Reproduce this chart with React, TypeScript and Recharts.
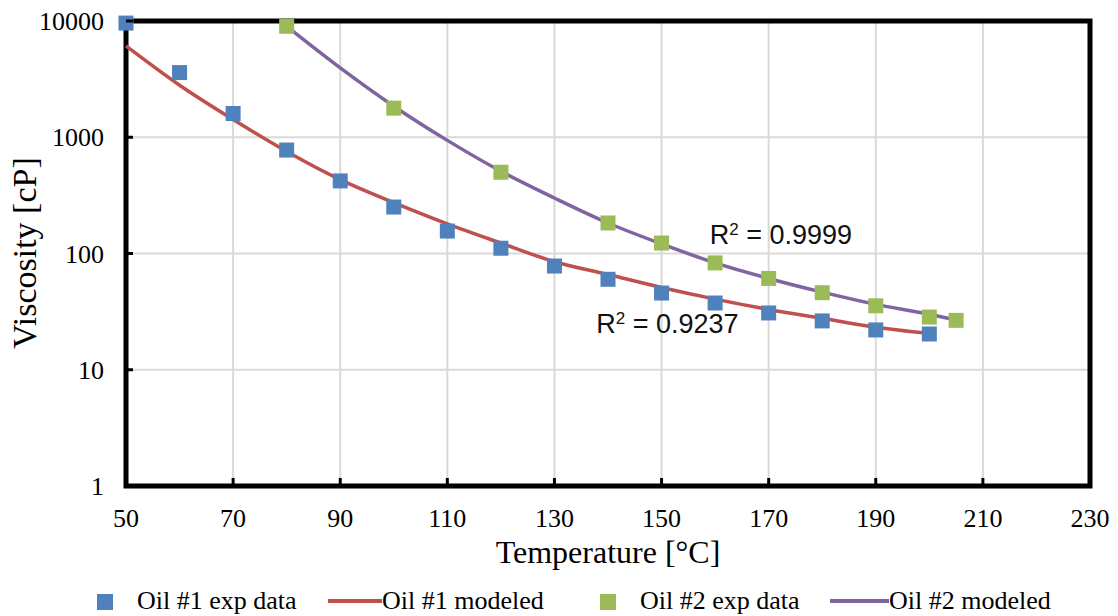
import React from 'react';
import {
  ComposedChart,
  XAxis,
  YAxis,
  CartesianGrid,
  Line,
  Scatter,
  Legend,
  ReferenceArea,
  ReferenceDot,
} from 'recharts';

// ---------- data ----------
const oil1ExpTemps = [50, 60, 70, 80, 90, 100, 110, 120, 130, 140, 150, 160, 170, 180, 190, 200];
const oil1ExpValues = [9600, 3600, 1600, 776, 421, 251, 156, 111, 78, 60, 45.7, 37.5, 30.8, 26.3, 22, 20.3];

const oil1ModelTemps = [50, 60, 70, 80, 90, 100, 110, 120, 130, 140, 150, 160, 170, 180, 190, 200];
const oil1ModelValues = [6100, 2800, 1420, 755, 432, 274, 180, 123, 85, 66, 51, 40.5, 33, 27.7, 23.2, 20.5];

const oil2ExpTemps = [80, 100, 120, 140, 150, 160, 170, 180, 190, 200, 205];
const oil2ExpValues = [9000, 1780, 500, 183, 123, 83, 61, 46, 35.5, 28.4, 26.6];

const oil2ModelTemps = [80, 90, 100, 110, 120, 130, 140, 150, 160, 170, 180, 190, 200, 205];
const oil2ModelValues = [9000, 3950, 1850, 940, 510, 300, 183, 121, 83, 61, 46.5, 36.5, 30, 26.8];

const xTicks = [50, 70, 90, 110, 130, 150, 170, 190, 210, 230];
const yTicks = [1, 10, 100, 1000, 10000];

const r2Labels = [
  { t: 159, v: 121, text: '0.9999' },
  { t: 137.8, v: 20.7, text: '0.9237' },
];

const legendItems = [
  { name: 'Oil #1 exp data', kind: 'square', color: '#4f81bd' },
  { name: 'Oil #1 modeled', kind: 'line', color: '#c0504d' },
  { name: 'Oil #2 exp data', kind: 'square', color: '#9bbb59' },
  { name: 'Oil #2 modeled', kind: 'line', color: '#8064a2' },
];

const toPoints = (ts: number[], vs: number[]) => ts.map((t, i) => ({ t, v: vs[i] }));
const oil1Exp = toPoints(oil1ExpTemps, oil1ExpValues);
const oil1Model = toPoints(oil1ModelTemps, oil1ModelValues);
const oil2Exp = toPoints(oil2ExpTemps, oil2ExpValues);
const oil2Model = toPoints(oil2ModelTemps, oil2ModelValues);

const SERIF = '"Liberation Serif", "Times New Roman", serif';
const SANS = '"Liberation Sans", Arial, sans-serif';

const squareShape = (color: string) => (props: any) => {
  const { cx, cy } = props;
  if (cx == null || cy == null) return null;
  return <rect x={cx - 7.5} y={cy - 7.5} width={15} height={15} fill={color} />;
};

const XTick = (props: any) => {
  const { x, y, payload } = props;
  return (
    <g>
      <line x1={x} y1={y} x2={x} y2={y - 8} stroke="#000" strokeWidth={3} />
      <text x={x} y={y + 41} textAnchor="middle" fontFamily={SERIF} fontSize={26} fill="#000">
        {payload.value}
      </text>
    </g>
  );
};

const YTick = (props: any) => {
  const { x, y, payload } = props;
  return (
    <g>
      <line x1={x} y1={y} x2={x + 7} y2={y} stroke="#000" strokeWidth={3} />
      <text x={x - 22} y={y + 9} textAnchor="end" fontFamily={SERIF} fontSize={26} fill="#000">
        {payload.value}
      </text>
    </g>
  );
};

const XTitle = (props: any) => {
  const vb = props.viewBox || {};
  return (
    <text
      x={vb.x + vb.width / 2}
      y={vb.y + 77}
      textAnchor="middle"
      fontFamily={SERIF}
      fontSize={32}
      fill="#000"
    >
      Temperature [°C]
    </text>
  );
};

const YTitle = () => {
  const cx = 36;
  const cy = 253;
  return (
    <text
      x={cx}
      y={cy}
      transform={`rotate(-90, ${cx}, ${cy})`}
      textAnchor="middle"
      fontFamily={SERIF}
      fontSize={34}
      fill="#000"
    >
      Viscosity [cP]
    </text>
  );
};

const R2Label = (text: string) => (props: any) => {
  const vb = props.viewBox || {};
  return (
    <text x={vb.x + 1} y={vb.y + 1} fontFamily={SANS} fontSize={27} fill="#111">
      R
      <tspan fontSize={17} dy={-9}>2</tspan>
      <tspan dy={9}> = {text}</tspan>
    </text>
  );
};

const legendLeft = [97, 328, 600, 830];
const legendTextLeft = [137, 382, 640, 889];

const LegendContent = () => (
  <div
    style={{
      position: 'relative',
      width: 1118,
      height: 30,
      fontFamily: SERIF,
      fontSize: 26,
      lineHeight: '30px',
      color: '#000',
    }}
  >
    {legendItems.map((it, i) => (
      <React.Fragment key={it.name}>
        {it.kind === 'square' ? (
          <div
            style={{
              position: 'absolute',
              left: legendLeft[i],
              top: 8,
              width: 16,
              height: 16,
              background: it.color,
            }}
          />
        ) : (
          <div
            style={{
              position: 'absolute',
              left: legendLeft[i],
              top: 13,
              width: legendTextLeft[i] - legendLeft[i],
              height: 4,
              background: it.color,
            }}
          />
        )}
        <span style={{ position: 'absolute', left: legendTextLeft[i], top: 0, whiteSpace: 'nowrap' }}>
          {it.name}
        </span>
      </React.Fragment>
    ))}
  </div>
);

export default function App() {
  return (
    <div style={{ position: 'absolute', left: 0, top: 0, width: 1118, height: 616, background: '#fff' }}>
      <ComposedChart
        width={1118}
        height={616}
        margin={{ top: 21, right: 28, bottom: 0, left: 0 }}
      >
        <CartesianGrid stroke="#d9d9d9" strokeWidth={2} />
        <XAxis
          type="number"
          dataKey="t"
          domain={[50, 230]}
          ticks={xTicks}
          interval={0}
          height={100}
          tickSize={0}
          tickMargin={0}
          axisLine={false}
          tickLine={false}
          tick={<XTick />}
          label={<XTitle />}
        />
        <YAxis
          type="number"
          scale="log"
          domain={[1, 10000]}
          ticks={yTicks}
          interval={0}
          width={126}
          tickSize={0}
          tickMargin={0}
          axisLine={false}
          tickLine={false}
          tick={<YTick />}
          label={<YTitle />}
        />
        <ReferenceArea
          x1={50}
          x2={230}
          y1={1}
          y2={10000}
          fill="none"
          fillOpacity={0}
          stroke="#000"
          strokeWidth={5}
          strokeOpacity={1}
        />
        <Line
          data={oil1Model}
          dataKey="v"
          type="monotone"
          stroke="#c0504d"
          strokeWidth={3.5}
          dot={false}
          activeDot={false}
          isAnimationActive={false}
          name="Oil #1 modeled"
        />
        <Line
          data={oil2Model}
          dataKey="v"
          type="monotone"
          stroke="#8064a2"
          strokeWidth={3.5}
          dot={false}
          activeDot={false}
          isAnimationActive={false}
          name="Oil #2 modeled"
        />
        <Scatter
          data={oil1Exp}
          dataKey="v"
          fill="#4f81bd"
          shape={squareShape('#4f81bd')}
          isAnimationActive={false}
          name="Oil #1 exp data"
        />
        <Scatter
          data={oil2Exp}
          dataKey="v"
          fill="#9bbb59"
          shape={squareShape('#9bbb59')}
          isAnimationActive={false}
          name="Oil #2 exp data"
        />
        {r2Labels.map((r) => (
          <ReferenceDot
            key={r.text}
            x={r.t}
            y={r.v}
            r={1}
            fill="none"
            stroke="none"
            label={R2Label(r.text)}
          />
        ))}
        <Legend
          verticalAlign="bottom"
          content={<LegendContent />}
          wrapperStyle={{ left: 0, width: 1118, height: 30, bottom: 0 }}
        />
      </ComposedChart>
    </div>
  );
}
